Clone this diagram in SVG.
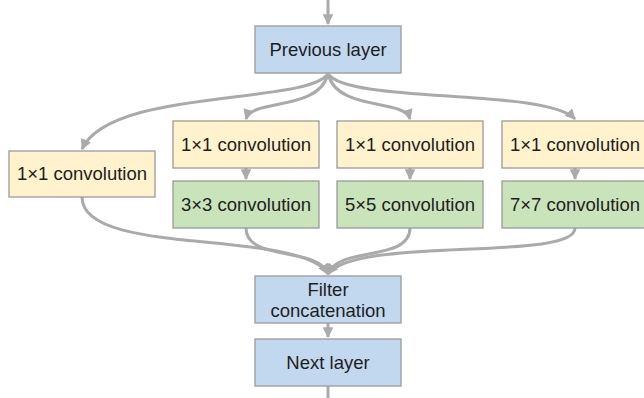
<svg xmlns="http://www.w3.org/2000/svg" width="644" height="398" viewBox="0 0 644 398">
<style>
.box{stroke:#9a9a9a;stroke-width:1.3}
.blue{fill:#c2d8ef}
.yellow{fill:#fff2cc}
.green{fill:#c9e3bb}
text{font-family:"Liberation Sans",Arial,sans-serif;font-size:18.5px;fill:#1e1e1e;text-anchor:middle}
.c{fill:none;stroke:#aaaaaa;stroke-width:3}
</style>
<defs>
<marker id="ah" viewBox="0 0 10 10" refX="9" refY="5" markerWidth="3.6" markerHeight="3.6" orient="auto" markerUnits="strokeWidth">
<path d="M0,0 L10,5 L0,10 z" fill="#aaaaaa"/>
</marker>
</defs>
<g id="connectors">
<path class="c" d="M328,0 L328,24" marker-end="url(#ah)"/>
<path class="c" d="M328,74 C305,105 110,88 82,149" marker-end="url(#ah)"/>
<path class="c" d="M328,74 C318,112 252,98 246,119" marker-end="url(#ah)"/>
<path class="c" d="M328,74 C338,112 404,98 410,119" marker-end="url(#ah)"/>
<path class="c" d="M328,74 C350,104 545,88 575,119" marker-end="url(#ah)"/>
<path class="c" d="M246,168 L246,179" marker-end="url(#ah)"/>
<path class="c" d="M410,168 L410,179" marker-end="url(#ah)"/>
<path class="c" d="M575,168 L575,179" marker-end="url(#ah)"/>
<path class="c" d="M82,197 C82,258 300,228 328,274" marker-end="url(#ah)"/>
<path class="c" d="M246,228 C246,262 318,246 328,274" marker-end="url(#ah)"/>
<path class="c" d="M410,228 C410,262 338,246 328,274" marker-end="url(#ah)"/>
<path class="c" d="M575,228 C575,262 356,236 328,274" marker-end="url(#ah)"/>
<path class="c" d="M328,323 L328,337" marker-end="url(#ah)"/>
<path class="c" d="M328,386 L328,398"/>
</g>
<g id="prev"><rect class="box blue" x="255" y="26" width="146" height="47"/><text x="328" y="56">Previous layer</text></g>
<g id="c1"><rect class="box yellow" x="9" y="151" width="146" height="46"/><text x="82" y="180">1×1 convolution</text></g>
<g id="c2a"><rect class="box yellow" x="173" y="121" width="146" height="47"/><text x="246" y="151">1×1 convolution</text></g>
<g id="c3a"><rect class="box yellow" x="337" y="121" width="146" height="47"/><text x="410" y="151">1×1 convolution</text></g>
<g id="c4a"><rect class="box yellow" x="502" y="121" width="146" height="47"/><text x="575" y="151">1×1 convolution</text></g>
<g id="c2b"><rect class="box green" x="173" y="181" width="146" height="47"/><text x="246" y="211">3×3 convolution</text></g>
<g id="c3b"><rect class="box green" x="337" y="181" width="146" height="47"/><text x="410" y="211">5×5 convolution</text></g>
<g id="c4b"><rect class="box green" x="502" y="181" width="146" height="47"/><text x="575" y="211">7×7 convolution</text></g>
<g id="concat"><rect class="box blue" x="255" y="276" width="146" height="47"/><text x="328" y="296">Filter</text><text x="328" y="317">concatenation</text></g>
<g id="next"><rect class="box blue" x="255" y="339" width="146" height="47"/><text x="328" y="369">Next layer</text></g>
</svg>
